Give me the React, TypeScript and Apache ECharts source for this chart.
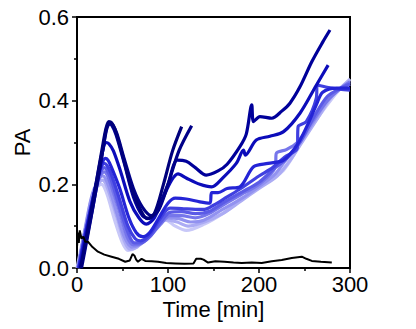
import React, { useEffect, useRef } from "react";
import * as echarts from "echarts";

// [time (min), PA]
const seriesA: number[][] = [[4,0],[10,0.07],[20,0.19],[28,0.29],[32,0.335],[35,0.35],[38,0.347],[42,0.33],[50,0.27],[60,0.19],[70,0.138],[77,0.118],[85,0.13],[95,0.2],[105,0.28],[115,0.338]];
const seriesB: number[][] = [[5,0],[12,0.08],[22,0.2],[29,0.29],[33,0.335],[36,0.345],[39,0.343],[44,0.32],[52,0.26],[62,0.19],[72,0.145],[82,0.125],[90,0.14],[100,0.2],[112,0.28],[126,0.34]];
const seriesC: number[][] = [[4,0],[12,0.085],[22,0.2],[29,0.29],[32,0.33],[35,0.345],[38,0.342],[43,0.318],[52,0.25],[62,0.17],[72,0.125],[80,0.118],[90,0.15],[100,0.2],[106,0.245],[110,0.258],[120,0.255],[130,0.24],[142,0.222],[155,0.232],[165,0.248],[179,0.29],[186,0.32],[192,0.39],[194,0.35],[201,0.362],[214,0.358],[225,0.375],[234,0.394],[245,0.433],[258,0.493],[270,0.54],[278,0.569]];
const seriesD: number[][] = [[3,0],[10,0.08],[20,0.19],[26,0.26],[30,0.295],[32,0.3],[35,0.297],[40,0.28],[48,0.23],[58,0.16],[68,0.12],[76,0.105],[85,0.12],[95,0.17],[104,0.21],[111,0.225],[120,0.215],[135,0.2],[148,0.194],[160,0.215],[175,0.25],[183,0.282],[185,0.27],[197,0.306],[212,0.315],[227,0.326],[245,0.37],[263,0.437],[276,0.485]];
const seriesE: number[][] = [[2,0],[10,0.09],[20,0.19],[26,0.24],[29,0.258],[31,0.262],[34,0.258],[38,0.24],[47,0.19],[57,0.12],[65,0.085],[72,0.075],[80,0.085],[90,0.12],[100,0.155],[108,0.167],[120,0.165],[135,0.158],[146,0.155],[148,0.18],[155,0.18],[165,0.19],[179,0.194],[194,0.242],[210,0.25],[227,0.258],[243,0.298],[255,0.35],[263,0.39],[270,0.42],[285,0.43],[300,0.43]];
const seriesF: number[][] = [[2,0],[10,0.09],[20,0.19],[25,0.232],[28,0.247],[30,0.25],[33,0.245],[37,0.228],[46,0.17],[56,0.1],[64,0.07],[70,0.065],[80,0.08],[92,0.12],[102,0.143],[115,0.142],[130,0.14],[140,0.14],[150,0.15],[165,0.17],[180,0.19],[200,0.22],[215,0.24],[228,0.265],[242,0.286],[243,0.338],[252,0.35],[263,0.406],[264,0.437],[280,0.43],[300,0.425]];
const seriesG: number[][] = [[2,0],[10,0.09],[20,0.19],[25,0.225],[28,0.237],[30,0.24],[33,0.234],[37,0.215],[46,0.15],[56,0.085],[63,0.06],[70,0.06],[80,0.075],[92,0.11],[102,0.133],[115,0.135],[130,0.13],[145,0.135],[160,0.155],[180,0.18],[200,0.205],[218,0.24],[230,0.26],[245,0.3],[260,0.36],[275,0.41],[290,0.43],[300,0.44]];
const seriesH: number[][] = [[1,0],[9,0.09],[19,0.18],[25,0.218],[28,0.228],[30,0.23],[33,0.223],[37,0.2],[46,0.14],[55,0.075],[62,0.055],[70,0.058],[80,0.075],[92,0.105],[102,0.125],[115,0.125],[130,0.12],[145,0.13],[160,0.15],[180,0.175],[200,0.2],[218,0.242],[219,0.274],[230,0.283],[242,0.3],[260,0.355],[275,0.4],[290,0.43],[300,0.445]];
const seriesI: number[][] = [[1,0],[8,0.08],[16,0.17],[22,0.205],[26,0.218],[28,0.22],[31,0.215],[35,0.195],[44,0.13],[52,0.075],[60,0.05],[68,0.055],[78,0.075],[90,0.105],[100,0.12],[112,0.118],[125,0.11],[140,0.115],[160,0.14],[180,0.165],[200,0.195],[218,0.225],[230,0.26],[245,0.3],[260,0.35],[275,0.4],[290,0.43],[300,0.44]];
const seriesJ: number[][] = [[1,0],[8,0.08],[16,0.165],[22,0.197],[26,0.208],[28,0.21],[31,0.204],[35,0.182],[44,0.12],[52,0.065],[58,0.045],[66,0.05],[76,0.07],[88,0.1],[98,0.115],[110,0.11],[122,0.1],[140,0.11],[160,0.13],[180,0.16],[200,0.19],[220,0.22],[235,0.26],[250,0.31],[265,0.36],[280,0.41],[300,0.45]];
const seriesK: number[][] = [[0,0],[7,0.075],[15,0.16],[21,0.19],[25,0.199],[27,0.2],[30,0.193],[34,0.17],[42,0.11],[50,0.06],[56,0.042],[64,0.048],[74,0.07],[86,0.1],[97,0.115],[108,0.1],[120,0.09],[140,0.105],[160,0.13],[179,0.16],[201,0.195],[227,0.234],[252,0.32],[282,0.41],[300,0.452]];
const control: number[][] = [[0,0.05],[1,0.085],[2,0.06],[3,0.09],[5,0.07],[7,0.075],[9,0.063],[12,0.063],[17,0.05],[23,0.039],[30,0.032],[38,0.027],[46,0.022],[53,0.015],[58,0.018],[61,0.033],[63,0.03],[65,0.02],[67,0.015],[71,0.022],[75,0.017],[82,0.016],[89,0.015],[98,0.012],[108,0.011],[118,0.01],[128,0.011],[131,0.022],[136,0.022],[139,0.02],[144,0.013],[152,0.016],[162,0.015],[172,0.013],[181,0.012],[192,0.013],[203,0.012],[214,0.016],[225,0.019],[236,0.024],[247,0.027],[252,0.022],[258,0.017],[268,0.015],[280,0.013]];

const blueSeries = [seriesK, seriesJ, seriesI, seriesH, seriesG, seriesF, seriesE, seriesD, seriesC, seriesB, seriesA];
const blueColors = ["#c8c8f8", "#acacf4", "#9292f0", "#7676eb", "#5b5be6", "#4040e0", "#2424d6", "#0c0cba", "#00009a", "#000088", "#00007c"];

const xTicks = { min: 0, max: 300, interval: 100 };
const yTicks = { min: 0, max: 0.6, interval: 0.2 };

const FONT = "'Liberation Sans', Arial, sans-serif";

export default function App() {
  const ref = useRef<HTMLDivElement>(null);
  useEffect(() => {
    if (!ref.current) return;
    const chart = echarts.init(ref.current, null, { renderer: "svg" });
    const series: any[] = blueSeries.map((d, i) => ({
      type: "line",
      data: d,
      showSymbol: false,
      symbol: "none",
      smooth: 0.3,
      lineStyle: { width: 3.2, color: blueColors[i] },
      z: 2 + i,
    }));
    series.push({
      type: "line",
      data: control,
      showSymbol: false,
      symbol: "none",
      lineStyle: { width: 2, color: "#000" },
      z: 20,
    });
    chart.setOption({
      animation: false,
      backgroundColor: "#fff",
      grid: { left: 77, right: 66, top: 17, bottom: 61, show: true, borderColor: "#000", borderWidth: 2, backgroundColor: "transparent" },
      xAxis: {
        type: "value",
        ...xTicks,
        name: "Time [min]",
        nameLocation: "middle",
        nameGap: 30,
        nameMoveOverlap: false,
        nameTextStyle: { fontSize: 22, color: "#000", fontFamily: FONT, verticalAlign: "top" },
        axisLine: { lineStyle: { color: "#000", width: 2 } },
        axisTick: { show: true, length: 5, lineStyle: { color: "#000", width: 1.5 } },
        minorTick: { show: true, splitNumber: 2, length: 3, lineStyle: { color: "#000", width: 1.5 } },
        splitLine: { show: false },
        axisLabel: { fontSize: 22, color: "#000", fontFamily: FONT, margin: 5 },
      },
      yAxis: {
        type: "value",
        ...yTicks,
        name: "PA",
        nameLocation: "middle",
        nameGap: 44,
        nameMoveOverlap: false,
        nameTextStyle: { fontSize: 22, color: "#000", fontFamily: FONT },
        axisLine: { lineStyle: { color: "#000", width: 2 } },
        axisTick: { show: true, length: 5, lineStyle: { color: "#000", width: 1.5 } },
        minorTick: { show: true, splitNumber: 2, length: 3, lineStyle: { color: "#000", width: 1.5 } },
        splitLine: { show: false },
        axisLabel: { fontSize: 22, color: "#000", fontFamily: FONT, margin: 8, formatter: (v: number) => v.toFixed(1) },
      },
      series,
    });
    return () => chart.dispose();
  }, []);
  return <div ref={ref} style={{ position: "fixed", left: 0, top: 0, width: 416, height: 329, background: "#fff" }} />;
}
